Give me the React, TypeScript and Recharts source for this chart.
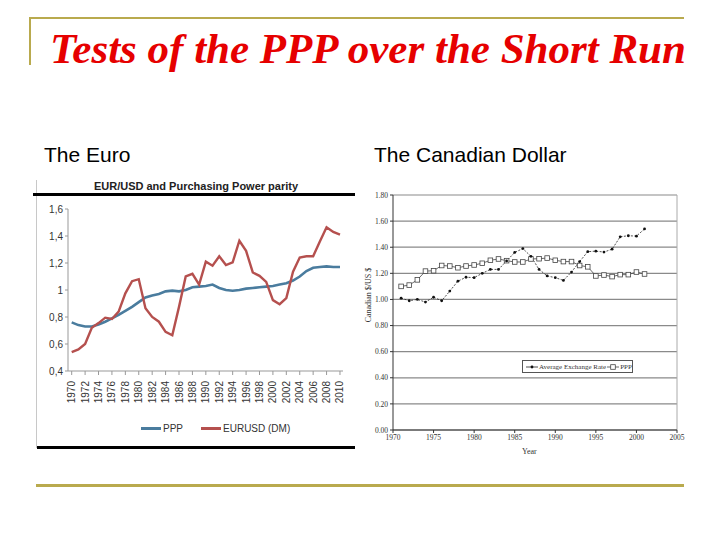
import React from 'react';
import { LineChart, Line, XAxis, YAxis, CartesianGrid, ReferenceLine } from 'recharts';

// ---- Euro chart data ----
const euroYears = [1970,1971,1972,1973,1974,1975,1976,1977,1978,1979,1980,1981,1982,1983,1984,1985,1986,1987,1988,1989,1990,1991,1992,1993,1994,1995,1996,1997,1998,1999,2000,2001,2002,2003,2004,2005,2006,2007,2008,2009,2010];
const euroPpp = [0.76,0.74,0.73,0.73,0.745,0.765,0.79,0.815,0.845,0.875,0.91,0.945,0.96,0.97,0.99,0.995,0.99,1.0,1.02,1.025,1.03,1.04,1.015,1.0,0.995,1.0,1.01,1.015,1.02,1.025,1.03,1.04,1.05,1.07,1.1,1.14,1.165,1.17,1.175,1.17,1.17];
const euroUsd = [0.54,0.56,0.60,0.72,0.755,0.795,0.785,0.84,0.975,1.065,1.08,0.865,0.80,0.765,0.69,0.665,0.875,1.10,1.12,1.04,1.21,1.18,1.25,1.185,1.205,1.365,1.29,1.13,1.105,1.06,0.925,0.895,0.94,1.135,1.24,1.25,1.25,1.36,1.465,1.43,1.41];
const euroXTicks = [1970,1972,1974,1976,1978,1980,1982,1984,1986,1988,1990,1992,1994,1996,1998,2000,2002,2004,2006,2008,2010];
const euroYTicks = [0.4,0.6,0.8,1.0,1.2,1.4,1.6];

// ---- Canadian dollar data ----
const cadYears = [1971,1972,1973,1974,1975,1976,1977,1978,1979,1980,1981,1982,1983,1984,1985,1986,1987,1988,1989,1990,1991,1992,1993,1994,1995,1996,1997,1998,1999,2000,2001];
const cadRate = [1.01,0.99,1.00,0.98,1.017,0.99,1.064,1.14,1.17,1.167,1.20,1.23,1.23,1.295,1.36,1.39,1.33,1.23,1.18,1.167,1.146,1.21,1.29,1.366,1.37,1.363,1.385,1.48,1.488,1.485,1.54];
const cadPpp = [1.10,1.11,1.15,1.217,1.22,1.26,1.256,1.243,1.256,1.264,1.277,1.30,1.31,1.297,1.287,1.287,1.31,1.312,1.317,1.30,1.29,1.29,1.26,1.25,1.18,1.187,1.175,1.19,1.19,1.21,1.195];
const cadXTicks = [1970,1975,1980,1985,1990,1995,2000,2005];
const cadYTicks = [0,0.2,0.4,0.6,0.8,1.0,1.2,1.4,1.6,1.8];

const euroData = euroYears.map((y, i) => ({ year: y, ppp: euroPpp[i], eur: euroUsd[i] }));
const cadData = cadYears.map((y, i) => ({ year: y, rate: cadRate[i], ppp: cadPpp[i] }));

const OLIVE = '#B9AA4E';
const BLUE = '#4A7C9E';
const RED = '#B5504E';
const NARROW = '"Liberation Sans Narrow", "Arial Narrow", "Liberation Sans", Arial, sans-serif';
const SERIF = '"Liberation Serif", "Times New Roman", serif';

const fmtEuro = (v: number) => (Math.abs(v - 1) < 1e-9 ? '1' : v.toFixed(1).replace('.', ','));

const EuroXTick = (props: any) => {
  const { x, y, payload } = props;
  return (
    <text transform={`translate(${x},${y + 4}) rotate(-90)`} textAnchor="end" dy={3.5} fontSize={10} fill="#333" fontFamily={NARROW}>
      {payload.value}
    </text>
  );
};

const SquareDot = (props: any) => {
  const { cx, cy, index } = props;
  return <rect key={`sq-${index}`} x={cx - 2.3} y={cy - 2.3} width={4.6} height={4.6} fill="#fff" stroke="#444" strokeWidth={0.8} />;
};

const SmallDot = (props: any) => {
  const { cx, cy, index } = props;
  return <circle key={`dt-${index}`} cx={cx} cy={cy} r={1.4} fill="#111" />;
};

export default function App() {
  return (
    <div style={{ position: 'absolute', left: 0, top: 0, width: 720, height: 540, background: '#fff', overflow: 'hidden' }}>
      {/* frame lines */}
      <div style={{ position: 'absolute', left: 29, top: 17, width: 655, height: 2, background: OLIVE }} />
      <div style={{ position: 'absolute', left: 29, top: 17, width: 2, height: 48, background: OLIVE }} />
      <div style={{ position: 'absolute', left: 36, top: 484, width: 648, height: 3, background: OLIVE }} />

      {/* title */}
      <div style={{ position: 'absolute', left: 50, top: 27, fontFamily: SERIF, fontWeight: 'bold', fontStyle: 'italic', fontSize: 43, lineHeight: '43px', color: '#E60000', whiteSpace: 'nowrap' }}>
        Tests of the PPP over the Short Run
      </div>

      <div style={{ position: 'absolute', left: 44, top: 144, fontFamily: '"Liberation Sans", Arial, sans-serif', fontSize: 21, lineHeight: '21px', color: '#000', whiteSpace: 'nowrap' }}>
        The Euro
      </div>
      <div style={{ position: 'absolute', left: 374, top: 144, fontFamily: '"Liberation Sans", Arial, sans-serif', fontSize: 21, lineHeight: '21px', color: '#000', whiteSpace: 'nowrap' }}>
        The Canadian Dollar
      </div>

      {/* ---- Euro chart ---- */}
      <div style={{ position: 'absolute', left: 36, top: 180, width: 1, height: 268, background: '#c8c8c8' }} />
      <div style={{ position: 'absolute', left: 36, top: 180, width: 320, textAlign: 'center', fontFamily: NARROW, fontSize: 11, fontWeight: 'bold', color: '#222', lineHeight: '12px' }}>
        EUR/USD and Purchasing Power parity
      </div>
      <div style={{ position: 'absolute', left: 33, top: 193, width: 322, height: 3, background: '#000' }} />
      <div style={{ position: 'absolute', left: 37, top: 446, width: 318, height: 3, background: '#000' }} />

      <div style={{ position: 'absolute', left: 36, top: 195 }}>
        <LineChart width={320} height={216} data={euroData} margin={{ top: 14, right: 13, bottom: 0, left: 0 }}>
          <XAxis
            dataKey="year"
            type="number"
            domain={[1969.45, 2010.45]}
            ticks={euroXTicks}
            interval={0}
            tick={<EuroXTick />}
            height={40}
            axisLine={{ stroke: '#999' }}
            tickLine={{ stroke: '#999' }}
            tickSize={4}
          />
          <YAxis
            type="number"
            domain={[0.4, 1.6]}
            ticks={euroYTicks}
            tickFormatter={fmtEuro}
            width={32}
            axisLine={{ stroke: '#999' }}
            tickLine={{ stroke: '#999' }}
            tickSize={3}
            tick={{ fontSize: 10, fill: '#333', fontFamily: NARROW }}
            interval={0}
          />
          <Line type="linear" dataKey="ppp" stroke={BLUE} strokeWidth={2.6} dot={false} isAnimationActive={false} />
          <Line type="linear" dataKey="eur" stroke={RED} strokeWidth={2.4} dot={false} isAnimationActive={false} />
        </LineChart>
      </div>

      {/* Euro legend */}
      <div style={{ position: 'absolute', left: 141, top: 421, height: 14, display: 'flex', alignItems: 'center', fontFamily: NARROW, fontSize: 10, color: '#333', whiteSpace: 'nowrap' }}>
        <span style={{ display: 'inline-block', width: 20, height: 3, background: BLUE, marginRight: 2 }} />
        <span style={{ marginRight: 18 }}>PPP</span>
        <span style={{ display: 'inline-block', width: 20, height: 3, background: RED, marginRight: 2 }} />
        <span>EURUSD (DM)</span>
      </div>

      {/* ---- Canadian chart ---- */}
      <div style={{ position: 'absolute', left: 360, top: 185 }}>
        <LineChart width={327} height={275} data={cadData} margin={{ top: 10, right: 10, bottom: 0, left: 0 }}>
          <CartesianGrid horizontal={true} vertical={false} stroke="#8a8a8a" strokeWidth={1.2} />
          <ReferenceLine x={2005} stroke="#aaa" strokeWidth={1} />
          <XAxis
            dataKey="year"
            type="number"
            domain={[1970, 2005]}
            ticks={cadXTicks}
            interval={0}
            height={30}
            axisLine={{ stroke: '#333' }}
            tickLine={{ stroke: '#333' }}
            tickSize={3}
            tick={{ fontSize: 7.5, fill: '#333', fontFamily: SERIF }}
          />
          <YAxis
            type="number"
            domain={[0, 1.8]}
            ticks={cadYTicks}
            interval={0}
            tickFormatter={(v: number) => v.toFixed(2)}
            width={33}
            axisLine={{ stroke: '#333' }}
            tickLine={{ stroke: '#333' }}
            tickSize={3}
            tick={{ fontSize: 7.5, fill: '#333', fontFamily: SERIF }}
          />
          <Line type="linear" dataKey="ppp" stroke="#444" strokeWidth={0.8} dot={<SquareDot />} isAnimationActive={false} />
          <Line type="linear" dataKey="rate" stroke="#222" strokeWidth={0.8} strokeDasharray="2 1.5" dot={<SmallDot />} isAnimationActive={false} />
        </LineChart>
      </div>

      <div style={{ position: 'absolute', left: 522, top: 447, fontFamily: SERIF, fontSize: 8, color: '#333' }}>Year</div>
      <div style={{ position: 'absolute', left: 369, top: 295, width: 0, height: 0 }}>
        <div style={{ position: 'absolute', left: -40, top: -5, width: 80, textAlign: 'center', transform: 'rotate(-90deg)', fontFamily: SERIF, fontSize: 8, color: '#333', whiteSpace: 'nowrap', lineHeight: '10px' }}>
          Canadian $/US $
        </div>
      </div>

      {/* Canadian legend */}
      <div style={{ position: 'absolute', left: 522, top: 360, width: 111, height: 13, border: '1px solid #555', background: '#fff', boxSizing: 'border-box', display: 'flex', alignItems: 'center', fontFamily: SERIF, fontSize: 7, color: '#333', whiteSpace: 'nowrap', paddingLeft: 3, overflow: 'hidden' }}>
        <svg width={12} height={8} style={{ marginRight: 1, flex: 'none' }}>
          <line x1={0} y1={4} x2={12} y2={4} stroke="#222" strokeWidth={0.8} />
          <circle cx={6} cy={4} r={1.4} fill="#111" />
        </svg>
        <span>Average Exchange Rate</span>
        <svg width={12} height={8} style={{ margin: '0 1px', flex: 'none' }}>
          <line x1={0} y1={4} x2={12} y2={4} stroke="#444" strokeWidth={0.8} />
          <rect x={3.7} y={1.7} width={4.6} height={4.6} fill="#fff" stroke="#444" strokeWidth={0.8} />
        </svg>
        <span>PPP</span>
      </div>
    </div>
  );
}
